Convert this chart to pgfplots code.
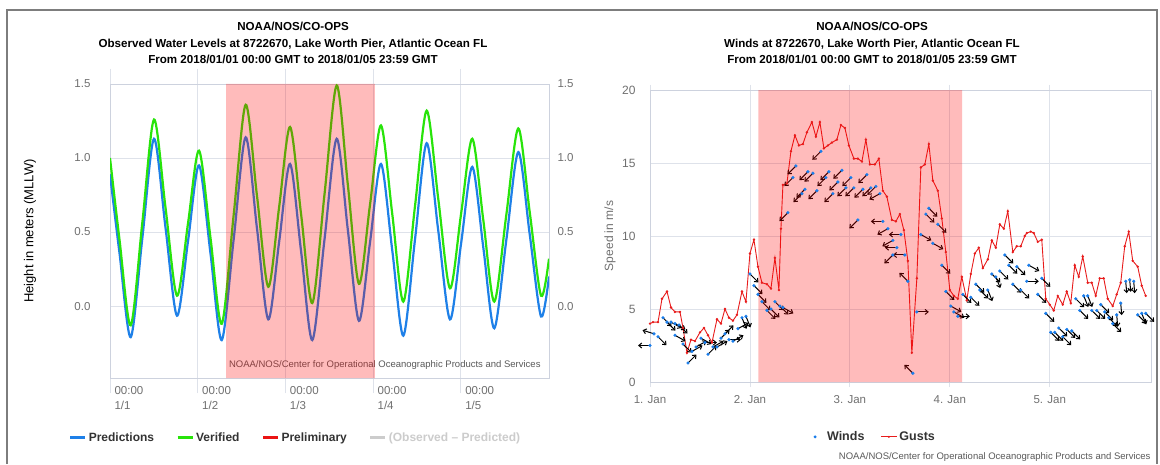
\documentclass[border=0pt]{standalone}
\usepackage{pgfplots}
\pgfplotsset{compat=1.18}
\usepackage{pgfplotstable}
\usepackage{fontspec}
\setmainfont{Liberation Sans}
\usetikzlibrary{arrows.meta}

\definecolor{predblue}{RGB}{30,128,232}
\definecolor{verigreen}{RGB}{40,228,10}
\definecolor{prelred}{RGB}{235,20,20}
\definecolor{gustred}{RGB}{232,28,28}
\definecolor{windblue}{RGB}{25,125,235}
\definecolor{gridc}{RGB}{222,226,234}
\definecolor{axc}{RGB}{205,210,222}
\definecolor{tickc}{RGB}{112,112,112}
\definecolor{framec}{RGB}{125,125,125}
\definecolor{legtext}{RGB}{51,51,51}
\definecolor{legoff}{RGB}{204,204,204}
\definecolor{credit}{RGB}{90,90,90}

\pgfplotstableread{
t h
0.000 0.89
0.108 0.36
0.236 -0.21
0.369 0.46
0.502 1.13
0.633 0.53
0.764 -0.065
0.890 0.44
1.015 0.95
1.145 0.36
1.274 -0.23
1.411 0.455
1.547 1.14
1.676 0.525
1.805 -0.09
1.929 0.435
2.053 0.96
2.180 0.365
2.307 -0.23
2.446 0.45
2.585 1.13
2.712 0.515
2.839 -0.10
2.965 0.43
3.090 0.96
3.218 0.38
3.345 -0.20
3.478 0.45
3.611 1.10
3.744 0.505
3.877 -0.09
4.004 0.425
4.131 0.94
4.257 0.395
4.382 -0.15
4.519 0.445
4.656 1.04
4.786 0.485
4.915 -0.07
5.006 0.20
}\pred

\pgfplotstableread{
t h
0.000 1.00
0.108 0.45
0.236 -0.13
0.369 0.565
0.502 1.26
0.633 0.665
0.764 0.07
0.890 0.56
1.015 1.05
1.145 0.465
1.274 -0.12
1.411 0.62
1.547 1.36
1.676 0.745
1.805 0.13
1.929 0.67
2.053 1.21
2.180 0.615
2.307 0.02
2.446 0.755
2.585 1.49
2.712 0.82
2.839 0.15
2.965 0.685
3.090 1.22
3.218 0.625
3.345 0.03
3.478 0.675
3.611 1.32
3.744 0.72
3.877 0.12
4.004 0.625
4.131 1.13
4.257 0.58
4.382 0.03
4.519 0.615
4.656 1.20
4.786 0.635
4.915 0.07
5.006 0.32
}\veri

\pgfplotstableread{
t g
0.00 4.0
0.03 4.1
0.08 4.1
0.12 5.7
0.17 6.2
0.21 5.1
0.25 4.8
0.30 4.8
0.33 3.7
0.37 2.0
0.41 2.9
0.45 2.8
0.50 3.4
0.54 3.7
0.58 3.2
0.62 2.7
0.67 4.3
0.71 4.0
0.75 5.0
0.79 4.4
0.83 4.2
0.87 4.6
0.92 6.2
0.96 5.5
1.00 8.8
1.04 9.75
1.08 7.9
1.12 6.8
1.17 6.7
1.21 6.4
1.25 8.5
1.29 6.3
1.31 10.5
1.33 13.5
1.37 13.6
1.41 15.8
1.45 16.9
1.49 16.2
1.53 16.3
1.57 17.1
1.62 17.8
1.66 16.8
1.70 17.8
1.74 16.0
1.78 16.2
1.82 16.4
1.87 16.6
1.91 17.6
1.95 17.4
1.99 16.2
2.04 15.3
2.08 15.3
2.12 15.1
2.16 16.6
2.20 14.9
2.25 14.9
2.29 15.3
2.33 13.1
2.37 12.7
2.42 11.1
2.46 11.0
2.50 11.5
2.54 10.4
2.58 8.3
2.62 2.0
2.67 7.1
2.71 14.7
2.75 14.9
2.79 16.3
2.83 13.8
2.88 13.1
2.92 11.2
2.96 8.9
3.00 6.3
3.04 5.9
3.08 5.7
3.12 7.2
3.17 5.6
3.21 7.4
3.25 8.8
3.29 9.2
3.33 7.8
3.38 8.4
3.42 9.7
3.46 9.2
3.50 10.8
3.54 10.5
3.58 11.7
3.63 8.9
3.67 9.3
3.71 9.3
3.75 10.0
3.77 10.2
3.81 10.3
3.84 10.2
3.88 9.6
3.92 9.75
3.96 5.7
4.00 5.3
4.04 4.9
4.08 5.9
4.13 5.3
4.17 6.2
4.21 5.4
4.25 8.0
4.29 7.2
4.33 8.6
4.38 6.8
4.42 6.8
4.46 5.9
4.50 7.1
4.54 7.1
4.58 5.7
4.63 5.2
4.67 6.0
4.71 6.8
4.75 9.3
4.79 10.3
4.83 8.3
4.88 7.9
4.92 6.6
4.96 5.9
}\gust

\pgfplotstableread{
t s u v
0.00 2.5 -0.12 0
0.04 3.3 -0.115 0.25
0.08 3.1 0.085 -0.58
0.13 4.4 0.085 -0.58
0.17 4.1 0.085 -0.58
0.21 4.1 0.105 -0.4
0.25 4.0 0.105 -0.4
0.29 3.9 0.085 -0.58
0.25 3.2 0.105 -0.4
0.33 2.6 0.085 -0.58
0.38 1.3 0.085 0.58
0.42 2.1 0.105 0.4
0.46 2.4 0.105 0.4
0.51 3.0 0.105 -0.4
0.55 2.7 0.12 0
0.58 1.9 0.085 0.58
0.63 2.4 0.105 0.4
0.67 2.4 0.105 0.4
0.71 3.0 0.085 0.58
0.75 3.3 0.085 0.58
0.79 2.9 0.12 0
0.83 2.8 0.105 0.4
0.88 3.65 0.105 0.4
0.92 4.4 0.045 -0.76
0.96 4.5 0.045 -0.76
1.00 7.4 0.085 -0.58
1.04 6.6 0.085 -0.58
1.08 6.0 0.085 -0.58
1.12 5.5 0.085 -0.58
1.17 4.9 0.085 -0.58
1.21 5.0 0.085 -0.58
1.25 5.5 0.085 -0.58
1.30 5.2 0.085 -0.58
1.33 5.1 0.105 -0.4
1.38 11.6 -0.085 -0.58
1.43 14.0 -0.085 -0.58
1.46 14.8 -0.085 -0.58
1.52 12.9 -0.085 -0.58
1.55 13.2 -0.085 -0.58
1.58 14.4 -0.085 -0.58
1.63 14.3 -0.085 -0.58
1.67 13.1 -0.085 -0.58
1.71 15.8 -0.085 -0.58
1.76 14.0 -0.085 -0.58
1.79 14.4 -0.085 -0.58
1.83 12.9 -0.085 -0.58
1.88 13.7 -0.085 -0.58
1.92 14.5 -0.085 -0.58
1.96 13.3 -0.085 -0.58
2.01 14.0 -0.085 -0.58
2.04 13.3 -0.085 -0.58
2.08 11.1 -0.085 -0.58
2.13 13.2 -0.085 -0.58
2.17 14.2 -0.085 -0.58
2.21 13.3 -0.085 -0.58
2.26 13.4 -0.085 -0.58
2.30 12.9 -0.105 -0.4
2.33 11.0 -0.12 0
2.38 10.5 -0.105 -0.4
2.43 9.7 -0.105 -0.4
2.47 9.2 -0.12 0
2.51 10.1 -0.12 0
2.43 8.7 -0.085 -0.58
2.55 8.7 -0.12 0
2.58 6.9 -0.085 0.58
2.63 0.6 -0.085 0.58
2.67 4.8 0.12 0
2.71 10.1 0.105 -0.4
2.76 11.5 0.085 -0.58
2.79 11.9 0.085 -0.58
2.83 9.5 0.105 -0.4
2.88 10.8 0.085 -0.58
2.92 8.0 0.085 -0.58
2.96 6.2 0.085 -0.58
3.01 5.2 0.105 -0.4
3.04 4.8 0.105 -0.4
3.08 4.5 0.12 0
3.13 6.0 0.085 -0.58
3.21 5.8 0.085 -0.58
3.26 6.7 0.085 -0.58
3.30 6.3 0.085 -0.58
3.38 6.3 0.045 -0.76
3.42 7.4 0.085 -0.58
3.46 7.2 0.045 -0.76
3.50 7.6 0.085 -0.58
3.55 8.7 0.085 -0.58
3.59 8.0 0.085 -0.58
3.63 6.7 0.085 -0.58
3.67 7.9 0.085 -0.58
3.71 6.3 0.085 -0.58
3.77 6.9 0.12 0
3.79 8.0 0.105 -0.4
3.88 6.0 0.085 -0.58
3.92 7.1 0.085 -0.58
3.96 4.7 0.085 -0.58
4.01 3.4 0.085 -0.58
4.05 3.4 0.085 -0.58
4.09 3.7 0.085 -0.58
4.13 3.1 0.085 -0.58
4.17 3.6 0.085 -0.58
4.22 3.5 0.085 -0.58
4.26 5.7 0.085 -0.58
4.30 4.9 0.085 -0.58
4.34 5.9 0.045 -0.76
4.38 5.9 0.045 -0.76
4.42 4.9 0.085 -0.58
4.47 4.9 0.085 -0.58
4.51 5.3 0.085 -0.58
4.55 4.8 0.085 -0.58
4.59 4.4 0.085 -0.58
4.63 4.0 0.085 -0.58
4.67 4.6 0.01 -0.82
4.71 5.4 0.01 -0.82
4.76 6.9 0.01 -0.82
4.80 7.0 0.01 -0.82
4.84 6.9 0.01 -0.82
4.88 4.6 0.085 -0.58
4.92 4.7 0.045 -0.76
4.96 4.7 0.085 -0.58
}\wind

\begin{document}
\begin{tikzpicture}
\useasboundingbox (0,0) rectangle (1160pt,464pt);
\fill[white] (0,0) rectangle (1160pt,464pt);
\draw[framec, line width=2pt] (6.5pt,0pt) -- (6.5pt,454pt) -- (1157pt,454pt) -- (1157pt,0pt);

% titles
\begin{scope}[every node/.style={font=\fontsize{11.6}{13}\selectfont\bfseries, anchor=base}]
\node at (293pt,433.7pt) {NOAA/NOS/CO-OPS};
\node at (293pt,416.7pt) {Observed Water Levels at 8722670, Lake Worth Pier, Atlantic Ocean FL};
\node at (293pt,400.2pt) {From 2018/01/01 00:00 GMT to 2018/01/05 23:59 GMT};
\node at (872pt,433.7pt) {NOAA/NOS/CO-OPS};
\node at (872pt,416.7pt) {Winds at 8722670, Lake Worth Pier, Atlantic Ocean FL};
\node at (872pt,400.2pt) {From 2018/01/01 00:00 GMT to 2018/01/05 23:59 GMT};
\end{scope}

% ---------------- left chart ----------------
\begin{axis}[
  at={(110pt,86pt)}, anchor=south west, scale only axis,
  width=439pt, height=294pt,
  xmin=0, xmax=5.006, ymin=-0.486, ymax=1.5,
  axis line style={draw=axc, line width=0.8pt},
  xtick={0,1,2,3,4},
  xticklabels={{00:00\\1/1},{00:00\\1/2},{00:00\\1/3},{00:00\\1/4},{00:00\\1/5}},
  ytick={0,0.5,1,1.5}, yticklabels={0.0,0.5,1.0,1.5},
  tick align=outside, major tick length=15pt,
  xtick style={draw=gridc, line width=0.8pt},
  ytick style={draw=none},
  xticklabel style={align=left, anchor=north west, text=tickc, font=\fontsize{11.5}{14.5}\selectfont, xshift=1pt, yshift=10pt},
  yticklabel style={anchor=east, text=tickc, font=\fontsize{11.5}{13}\selectfont, xshift=-1pt},
  xmajorgrids, ymajorgrids, grid style={draw=gridc, line width=0.8pt},
  ylabel={Height in meters (MLLW)},
  every axis y label/.style={at={(axis description cs:-0.182,0.5)}, rotate=90, anchor=center, font=\fontsize{13}{15}\selectfont},
  legend columns=4,
  legend style={at={(0.4226,-0.204)}, anchor=center, draw=none, fill=none,
    font=\fontsize{12}{14}\selectfont\bfseries\color{legtext},
    /tikz/every even column/.append style={column sep=20pt}},
  legend image code/.code={\draw[#1, line width=3pt] (0pt,0pt) -- (15pt,0pt);},
]
\addlegendimage{predblue}\addlegendentry{Predictions}
\addlegendimage{verigreen}\addlegendentry{Verified}
\addlegendimage{prelred}\addlegendentry{Preliminary}
\addlegendimage{legoff}\addlegendentry{\textcolor{legoff}{(Observed – Predicted)}}
\addplot[predblue, line width=2.2pt, smooth, forget plot] table[x=t,y=h] \pred;
\addplot[verigreen, line width=2.2pt, smooth, forget plot] table[x=t,y=h] \veri;
\node[anchor=base east, font=\fontsize{9.5}{11}\selectfont, text=credit] at (axis cs:4.95,-0.415) {NOAA/NOS/Center for Operational Oceanographic Products and Services};
\addplot[draw=none, fill=red, fill opacity=0.267, forget plot] coordinates {(1.323,-0.486) (1.323,1.5) (3.02,1.5) (3.02,-0.486) (1.323,-0.486)};
\end{axis}

\begin{axis}[
  at={(110pt,86pt)}, anchor=south west, scale only axis,
  width=439pt, height=294pt,
  xmin=0, xmax=5.006, ymin=-0.486, ymax=1.5,
  hide x axis, axis y line*=right, axis line style={draw=none},
  ytick={0,0.5,1,1.5}, yticklabels={0.0,0.5,1.0,1.5},
  major tick length=0pt, ytick style={draw=none},
  yticklabel style={anchor=west, text=tickc, font=\fontsize{11.5}{13}\selectfont, xshift=5pt},
]
\addplot[draw=none, forget plot] coordinates {(0,0) (1,1)};
\end{axis}

% ---------------- right chart ----------------
\begin{axis}[
  at={(650pt,82pt)}, anchor=south west, scale only axis,
  width=501pt, height=292pt,
  xmin=0, xmax=5.013, ymin=0, ymax=20, clip=false,
  axis line style={draw=axc, line width=0.8pt},
  xtick={0,1,2,3,4}, xticklabels={1. Jan,2. Jan,3. Jan,4. Jan,5. Jan},
  ytick={0,5,10,15,20}, yticklabels={0,5,10,15,20},
  tick align=outside, major tick length=5pt,
  xtick style={draw=gridc, line width=0.8pt}, ytick style={draw=none},
  xmajorgrids, ymajorgrids, grid style={draw=gridc, line width=0.8pt},
  xticklabel style={text=tickc, font=\fontsize{11.5}{13}\selectfont, yshift=-5pt},
  yticklabel style={text=tickc, font=\fontsize{12}{13}\selectfont, xshift=-6pt},
  ylabel={Speed in m/s},
  every axis y label/.style={at={(axis description cs:-0.08,0.5)}, rotate=90, anchor=center, font=\fontsize{12}{14}\selectfont, text=tickc},
  legend columns=2,
  legend style={at={(0.449,-0.188)}, anchor=center, draw=none, fill=none,
    font=\fontsize{12.5}{14}\selectfont\bfseries\color{legtext},
    /tikz/every even column/.append style={column sep=14pt}},
]
\addlegendimage{legend image code/.code={\path[draw=none,fill=none] (-2pt,0pt) rectangle (10pt,0.1pt); \fill[windblue, draw=none] (0pt,0pt) circle (1.6pt);}}\addlegendentry{Winds}
\addlegendimage{legend image code/.code={\draw[gustred, line width=1pt] (0pt,0pt) -- (16pt,0pt); \fill[gustred, draw=none] (8pt,0pt) circle (1.1pt);}}\addlegendentry{Gusts}
\addplot[gustred, line width=0.9pt, mark=*, mark size=0.7pt, forget plot] table[x=t,y=g] \gust;
\addplot[black, line width=1pt, -{Straight Barb[length=3pt,width=5pt]}, quiver={u=\thisrow{u}, v=\thisrow{v}}, forget plot] table[x=t,y=s] \wind;
\addplot[only marks, mark=*, mark size=1.4pt, windblue, forget plot] table[x=t,y=s] \wind;
\addplot[draw=none, fill=red, fill opacity=0.267, forget plot] coordinates {(1.085,0) (1.085,20) (3.123,20) (3.123,0) (1.085,0)};
\end{axis}

\node[anchor=base east, font=\fontsize{9.5}{11}\selectfont, text=credit] at (1154pt,5pt) {NOAA/NOS/Center for Operational Oceanographic Products and Services};
\end{tikzpicture}
\end{document}
